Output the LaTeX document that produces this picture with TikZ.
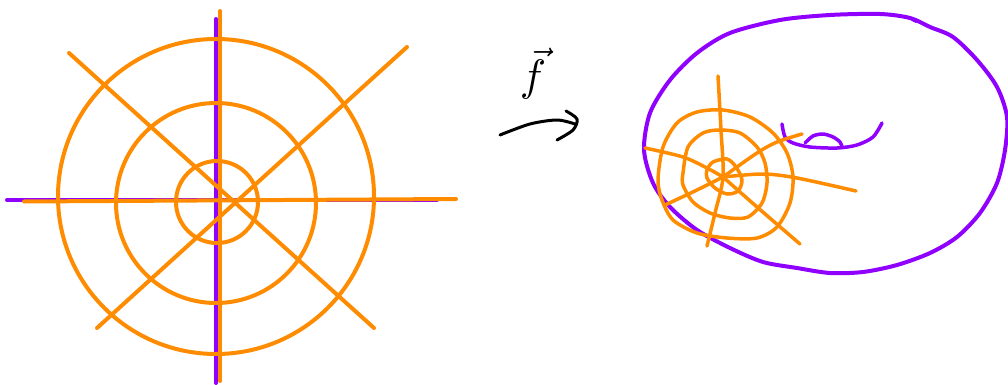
\documentclass[tikz,border=0pt]{standalone}
\definecolor{myorange}{RGB}{255,140,0}
\definecolor{mypurple}{RGB}{143,0,255}
\begin{document}
\begin{tikzpicture}[x=1pt,y=-1pt, line cap=round, line join=round,
  orangeline/.style={draw=myorange, line width=4pt},
  orangethin/.style={draw=myorange, line width=3.5pt},
  purpleline/.style={draw=mypurple, line width=4pt},
  handline/.style={draw=black, line width=3pt}]
\useasboundingbox (0,0) rectangle (1008,385);
% ---------- left figure ----------
\draw[purpleline] (216,19) -- (216,383);
\draw[purpleline] (7,200) -- (437,200);
\draw[orangeline] (220,11) -- (220,381);
\draw[orangeline] (24,201.5) -- (456,199);
\draw[orangeline] (69,53) -- (374,328);
\draw[orangeline] (97,328) -- (407,47);
\draw[orangeline] (217,202) circle[radius=41pt];
\draw[orangeline] (216,203) circle[radius=100pt];
\draw[orangeline] (216,196.5) ellipse[x radius=158pt, y radius=157.5pt];
% ---------- map label ----------
\node[inner sep=0pt, anchor=base] (flabel) at (533,91) {\scalebox{4.4}{$\vec{f}$}};
\draw[handline] plot[smooth] coordinates {(500,135) (530,124) (557,120) (575,124)};
\draw[handline] plot[smooth] coordinates {(566,111) (577,119) (573,130) (557,140)};
% ---------- right figure ----------
\draw[purpleline] plot[smooth cycle] coordinates {(644,150) (650,113) (670,80) (697,53) (730,33) (780,20) (830,15) (880,14) (910,18) (930,27) (953,37) (977,60) (997,87) (1007,117) (1005,150) (997,183) (980,213) (957,237) (930,253) (897,265) (863,272) (830,273) (797,268) (763,262) (730,248) (697,230) (670,207) (653,183)};
\draw[draw=mypurple, line width=2pt] (912,20) -- (916,22) (925,24) -- (929,26);
\draw[purpleline, line width=3.5pt] plot[smooth] coordinates {(782,124) (785,137) (793,143) (810,147) (837,148) (857,145) (873,137) (882,123)};
\draw[purpleline, line width=3.5pt] plot[smooth] coordinates {(805,143) (813,136) (823,134) (833,137) (840,142) (842,147)};
% orange loops
\draw[orangethin] plot[smooth cycle] coordinates {(707,170) (713,162) (727,159) (736,167) (742,180) (738,191) (727,194) (715,188) (707,178)};
\draw[orangethin] plot[smooth cycle] coordinates {(683,173) (688,147) (703,133) (720,130) (740,133) (757,147) (765,163) (767,183) (762,203) (748,217) (730,218) (710,213) (693,202) (683,185)};
\draw[orangethin] plot[smooth cycle] coordinates {(658,180) (663,147) (677,123) (697,112) (723,110) (750,117) (773,133) (787,153) (793,177) (790,203) (777,227) (757,238) (727,238) (697,233) (673,220) (662,200)};
% orange rays
\draw[orangethin] plot[smooth] coordinates {(718,76) (721,130) (723,177) (715,213) (707,246)};
\draw[orangethin] plot[smooth] coordinates {(645,148) (683,157) (707,168) (723,177)};
\draw[orangethin] plot[smooth] coordinates {(723,177) (757,153) (777,142) (802,134)};
\draw[orangethin] plot[smooth] coordinates {(723,177) (763,174) (797,178) (856,191)};
\draw[orangethin] plot[smooth] coordinates {(723,177) (757,207) (800,244)};
\draw[orangethin] plot[smooth] coordinates {(665,205) (697,190) (723,177)};
\end{tikzpicture}
\end{document}
